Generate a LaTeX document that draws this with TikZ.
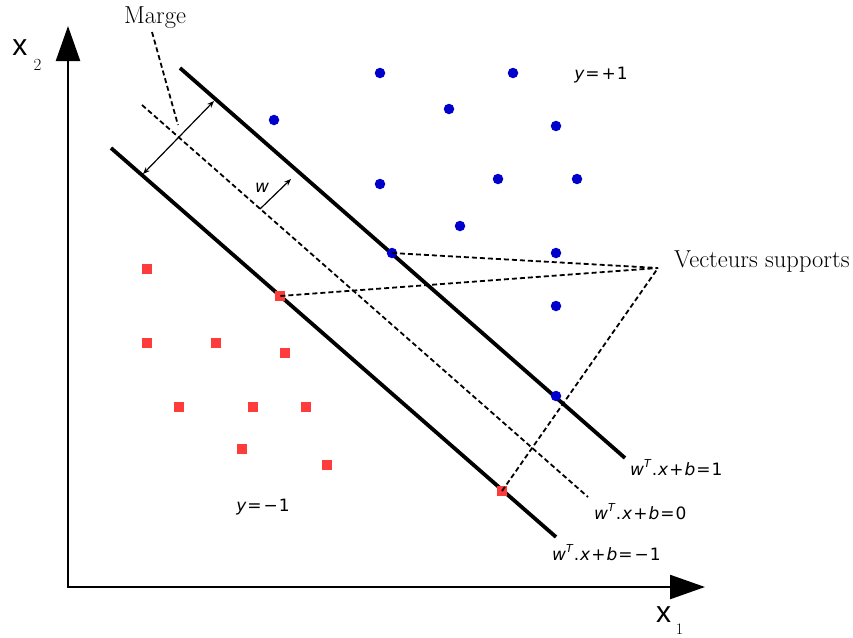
\documentclass[tikz,border=0pt]{standalone}
\usepackage{fontspec}
\newfontfamily\lblfont{DejaVu Sans}
\newfontfamily\axfont{Liberation Sans}
\usetikzlibrary{arrows.meta}
\definecolor{ptblue}{RGB}{0,0,204}
\definecolor{ptred}{RGB}{255,60,60}
\newcommand{\supT}{\raisebox{0.85ex}{\fontsize{11}{11}\selectfont\itshape T}}
\newcommand{\op}[1]{\kern1pt#1\kern1pt}
\begin{document}
\begin{tikzpicture}[x=1pt,y=-1pt,
  bluept/.style={circle,fill=ptblue,inner sep=0pt,minimum size=10.5pt},
  redpt/.style={rectangle,fill=ptred,inner sep=0pt,minimum size=10pt},
  hyper/.style={line width=3.8pt},
  dashline/.style={line width=1.8pt,dash pattern=on 5pt off 3pt},
  eqlabel/.style={font=\lblfont\fontsize{17}{20}\selectfont,inner sep=0pt},
  txt/.style={font=\fontsize{24.5}{28}\selectfont,inner sep=0pt},
  axis/.style={line width=2.4pt,line join=miter},
  thinarrow/.style={line width=1.2pt,-{Stealth[length=7pt,width=5.5pt]}}]
\useasboundingbox (0,0) rectangle (853,637);

% axes
\coordinate (ytip) at (68,26);
\coordinate (origin) at (68,587);
\coordinate (xtip) at (705,587);
\draw[axis,{Triangle[length=35pt,width=24pt]}-{Triangle[length=35pt,width=24pt]}] (ytip) -- (origin) -- (xtip);
\node[font=\axfont\fontsize{30}{30}\selectfont,inner sep=0pt,anchor=base] (x2) at (20,55) {x};
\node[font=\fontsize{17}{17}\selectfont,inner sep=0pt,anchor=base] (x2s) at (37.5,70) {2};
\node[font=\axfont\fontsize{30}{30}\selectfont,inner sep=0pt,anchor=base] (x1) at (663.5,622) {x};
\node[font=\fontsize{16}{16}\selectfont,inner sep=0pt,anchor=base] (x1s) at (679.5,634) {1};

% hyperplanes
\coordinate (p1a) at (180,68);
\coordinate (p1b) at (625,458);
\coordinate (m1a) at (111,148);
\coordinate (m1b) at (556,537);
\coordinate (z0a) at (142,105);
\coordinate (z0b) at (588,497);
\draw[hyper] (p1a) -- (p1b);
\draw[hyper] (m1a) -- (m1b);
\draw[dashline] (z0a) -- (z0b);

\node[eqlabel,anchor=west] (lp1) at (630,468) {\itshape w\supT\upshape\op{.}\itshape x\upshape\op{+}\itshape b\upshape\op{=}1};
\node[eqlabel,anchor=west] (lz0) at (594,512) {\itshape w\supT\upshape\op{.}\itshape x\upshape\op{+}\itshape b\upshape\op{=}0};
\node[eqlabel,anchor=west] (lm1) at (552,553) {\itshape w\supT\upshape\op{.}\itshape x\upshape\op{+}\itshape b\upshape\op{=}\op{−}1};

% margin
\coordinate (mgA) at (214,101);
\coordinate (mgB) at (143,174);
\draw[line width=1.2pt,{Stealth[length=7pt,width=5.5pt]}-{Stealth[length=7pt,width=5.5pt]}] (mgA) -- (mgB);
\node[txt] (marge) at (155,18) {Marge};
\coordinate (mgline) at (178,125);
\draw[dashline] (152,32) -- (mgline);

% w vector
\coordinate (w0) at (260,209);
\coordinate (w1) at (291,179);
\draw[thinarrow] (w0) -- (w1);
\node[eqlabel] (wl) at (262,188) {\itshape w};

% class labels
\node[eqlabel] (yp) at (601,75) {\itshape y\upshape\op{=}\op{+}1};
\node[eqlabel] (ym) at (263,507) {\itshape y\upshape\op{=}\op{−}1};

% blue points
\node[bluept] (b1) at (380,73) {};
\node[bluept] (b2) at (513,73) {};
\node[bluept] (b3) at (274,120) {};
\node[bluept] (b4) at (449,109) {};
\node[bluept] (b5) at (556,126) {};
\node[bluept] (b6) at (380,184) {};
\node[bluept] (b7) at (498,179) {};
\node[bluept] (b8) at (577,179) {};
\node[bluept] (b9) at (460,226) {};
\node[bluept] (b10) at (392,253) {};
\node[bluept] (b11) at (556,253) {};
\node[bluept] (b12) at (556,306) {};
\node[bluept] (b13) at (556,396) {};

% red points
\node[redpt] (r1) at (147,269) {};
\node[redpt] (r2) at (280,296) {};
\node[redpt] (r3) at (147,343) {};
\node[redpt] (r4) at (216,343) {};
\node[redpt] (r5) at (285,353) {};
\node[redpt] (r6) at (179,407) {};
\node[redpt] (r7) at (253,407) {};
\node[redpt] (r8) at (306,407) {};
\node[redpt] (r9) at (242,449) {};
\node[redpt] (r10) at (327,465) {};
\node[redpt] (r11) at (502,491) {};

% support vectors
\coordinate (vs) at (658,268);
\node[txt,anchor=west] (vstxt) at (674,262) {Vecteurs supports};
\draw[dashline] (b10.center) -- (vs) -- (r2.center);
\draw[dashline] (r11.center) -- (vs);
\end{tikzpicture}
\end{document}
